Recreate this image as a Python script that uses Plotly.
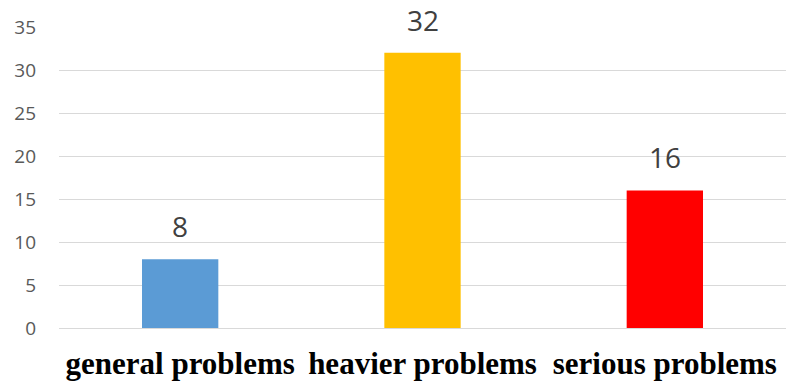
import plotly.graph_objects as go

categories = ["general problems", "heavier problems", "serious problems"]
values = [8, 32, 16]
colors = ["#5B9BD5", "#FFC000", "#FF0000"]
y_ticks = [0, 5, 10, 15, 20, 25, 30, 35]

fig = go.Figure()
fig.add_trace(go.Bar(
    x=categories,
    y=values,
    marker=dict(color=colors, line=dict(width=0)),
    width=0.315,
    hoverinfo="skip",
))

# value labels above each bar
for cat, val in zip(categories, values):
    fig.add_annotation(
        x=cat, y=val, text=str(val),
        showarrow=False, yanchor="bottom", yshift=12,
        font=dict(family="Open Sans", size=28, color="#404040"),
    )

fig.update_layout(
    width=789, height=383,
    margin=dict(l=59, r=3, t=27, b=55, autoexpand=False),
    paper_bgcolor="white", plot_bgcolor="white",
    showlegend=False,
)
fig.update_yaxes(
    range=[0, 35], tickvals=y_ticks, automargin=False,
    showgrid=True, gridcolor="#D9D9D9", gridwidth=1.3,
    zeroline=False, showline=False,
    tickfont=dict(family="Open Sans", size=19, color="#595959"),
    ticklabelstandoff=22,
)
fig.update_xaxes(
    automargin=False,
    showgrid=False, showline=True, linecolor="#D9D9D9", linewidth=1.3,
    tickfont=dict(family="Liberation Serif", size=31, color="black", weight="bold"),
    ticklabelstandoff=8,
)

fig.write_html("out.html")
